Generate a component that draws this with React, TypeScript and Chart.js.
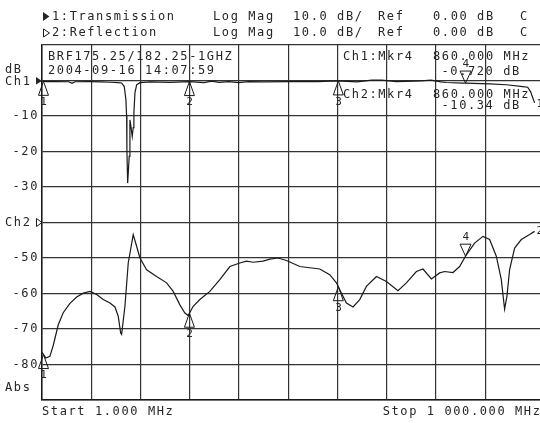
import React, { useEffect, useRef } from "react";
import { Chart, registerables } from "chart.js";

Chart.register(...registerables);

// ---- data ----
const xGridFreqs = [1, 100.9, 200.8, 300.7, 400.6, 500.5, 600.4, 700.3, 800.2, 900.1];
const yTickValues = [10, 0, -10, -20, -30, -40, -50, -60, -70, -80, -90];
const yTickLabels = ["", "", "-10", "-20", "-30", "", "-50", "-60", "-70", "-80", ""];

// Channel 1: Transmission (MHz, dB)
const transFreq = [
  1, 10, 30, 55, 62, 68, 100, 120, 140, 155, 162.5, 167.8, 171.2, 172.6, 173.2, 174.7,
  177.9, 179.3, 181.4, 184, 186, 187.4, 189.5, 192.9, 199.6, 220, 260, 300, 330, 345, 360,
  380, 400, 420, 450, 500, 560, 600, 640, 670, 690, 720, 770, 790, 810, 821, 854, 860, 909,
  943, 976, 986, 992, 1000,
];
const transDb = [
  -0.2, -0.3, -0.3, -0.35, -0.8, -0.35, -0.3, -0.4, -0.5, -0.6, -0.7, -1.7, -5.4, -10.1, -19.5, -28.9,
  -21.4, -11.1, -13, -15.8, -13.3, -9.1, -3.5, -1.2, -0.6, -0.4, -0.5, -0.3, -0.6, -0.2, -0.5,
  -0.3, -0.6, -0.3, -0.4, -0.3, -0.3, -0.1, -0.4, 0.1, 0.1, -0.3, -0.1, 0.1, -0.4, -0.56, -0.73, -0.72, -0.93,
  -1.2, -1.7, -1.9, -3.2, -6.3,
];

// Channel 2: Reflection (MHz, display dB)
const reflFreq = [
  1, 9, 17, 24, 34, 44, 57.7, 71.3, 84.7, 98.3, 111.8, 125.2, 138.8, 148.9, 155.6, 160.5, 162.5,
  169.2, 175.9, 186, 192.9, 199.6, 213.2, 233.4, 253.7, 267.1, 280.7, 290.8, 297.5, 307.6, 321.2,
  341.4, 361.7, 382, 402.2, 415.8, 429.2, 449.4, 463, 479.8, 496.9, 523.8, 564.3, 584.6, 598.2,
  608.3, 618.4, 631.8, 645.4, 659, 679.2, 699.5, 723, 740, 760.3, 773.7, 790.7, 807.5, 817.6,
  834.5, 848, 861.6, 878.4, 895.3, 908.8, 922.4, 932.5, 939.2, 943.9, 949.4, 959.5, 973.1, 989.9, 1000,
];
const reflDb = [
  -76.6, -78.2, -77.7, -74.5, -68.8, -65.4, -62.8, -61, -59.9, -59.4, -60.3, -61.7, -62.7, -63.8, -66.4, -71.1, -71.5,
  -63.6, -51.4, -43.4, -46.7, -50, -53.3, -55.2, -57, -59.4, -63.2, -65.5, -66.2, -63.6, -61.7,
  -59.4, -56.1, -52.4, -51.4, -50.9, -51.2, -50.9, -50.3, -50, -50.7, -52.4, -53.1, -54.7, -57,
  -59.9, -62.7, -63.8, -61.7, -58, -55.2, -56.6, -59.2, -57, -53.8, -53.1, -55.9, -54.2, -53.8,
  -54.1, -52.4, -49.1, -45.8, -43.9, -44.8, -49.5, -56.1, -64.4, -60.8, -53.3, -47.2, -44.8, -43.4, -42.5,
];

const markerFreqs = [4, 300, 602, 860];
const markerNames = ["1", "2", "3", "4"];

const FONT = '"DejaVu Sans Mono", "Liberation Mono", monospace';
const INK = "#1a1a1a";
const TEXT = "#262626";

function interp(fs: number[], ds: number[], f: number): number {
  if (f <= fs[0]) return ds[0];
  for (let i = 1; i < fs.length; i++) {
    if (f <= fs[i]) {
      const t = (f - fs[i - 1]) / (fs[i] - fs[i - 1]);
      return ds[i - 1] + t * (ds[i] - ds[i - 1]);
    }
  }
  return ds[ds.length - 1];
}

const overlay = {
  id: "overlay",
  beforeDraw(chart: any) {
    (chart.ctx as any).letterSpacing = "1.6px";
  },
  afterDraw(chart: any) {
    const ctx: CanvasRenderingContext2D = chart.ctx;
    const xs = chart.scales.x;
    const ys = chart.scales.y;
    ctx.save();
    (ctx as any).letterSpacing = "1.6px";
    ctx.fillStyle = TEXT;
    ctx.strokeStyle = INK;
    ctx.lineWidth = 1;
    ctx.textBaseline = "middle";
    ctx.textAlign = "left";
    ctx.font = `12px ${FONT}`;

    const t = (s: string, x: number, y: number) => ctx.fillText(s, x, y);

    // header
    ctx.beginPath();
    ctx.moveTo(43, 12);
    ctx.lineTo(43, 21);
    ctx.lineTo(49.5, 16.5);
    ctx.closePath();
    ctx.fill();
    t("1:Transmission", 52, 17);
    ctx.beginPath();
    ctx.moveTo(43.5, 29);
    ctx.lineTo(43.5, 37);
    ctx.lineTo(49.5, 33);
    ctx.closePath();
    ctx.stroke();
    t("2:Reflection", 52, 33);
    for (const yy of [17, 33]) {
      t("Log Mag", 213, yy);
      t("10.0 dB/", 293, yy);
      t("Ref", 378, yy);
      t("0.00 dB", 433, yy);
      t("C", 520, yy);
    }

    // annotation inside graticule
    t("BRF175.25/182.25-1GHZ", 48, 57);
    t("2004-09-16 14:07:59", 48, 71);
    t("Ch1:Mkr4", 343, 57);
    t("860.000 MHz", 433, 57);
    t("-0.720 dB", 441.5, 72);
    t("Ch2:Mkr4", 343, 95);
    t("860.000 MHz", 433, 95);
    t("-10.34 dB", 441.5, 106);

    // left axis labels
    const y0 = ys.getPixelForValue(0);
    const y40 = ys.getPixelForValue(-40);
    t("dB", 5, y0 - 11);
    t("Ch1", 5, y0 + 1.5);
    ctx.beginPath();
    ctx.moveTo(36, y0 - 3.5);
    ctx.lineTo(36, y0 + 4);
    ctx.lineTo(42, y0 + 0.5);
    ctx.closePath();
    ctx.fill();
    t("Ch2", 5, y40);
    ctx.beginPath();
    ctx.moveTo(36.5, y40 - 4);
    ctx.lineTo(36.5, y40 + 4);
    ctx.lineTo(42, y40);
    ctx.closePath();
    ctx.stroke();
    t("Abs", 5, ys.getPixelForValue(-86.7));

    // bottom labels
    t("Start 1.000 MHz", 42, 412);
    ctx.textAlign = "right";
    t("Stop 1 000.000 MHz", 541.5, 412);
    ctx.textAlign = "left";

    // markers
    ctx.font = `11px ${FONT}`;
    ctx.textAlign = "center";
    const drawMarkers = (fs: number[], ds: number[]) => {
      markerFreqs.forEach((f, i) => {
        const cx = xs.getPixelForValue(f);
        const cy = ys.getPixelForValue(interp(fs, ds, f));
        ctx.beginPath();
        if (i < 3) {
          ctx.moveTo(cx, cy);
          ctx.lineTo(cx - 5, cy + 14);
          ctx.lineTo(cx + 5, cy + 14);
          ctx.closePath();
          ctx.stroke();
          ctx.fillText(markerNames[i], cx + 1, cy + 21);
        } else {
          ctx.moveTo(cx, cy);
          ctx.lineTo(cx - 5.5, cy - 12);
          ctx.lineTo(cx + 5.5, cy - 12);
          ctx.closePath();
          ctx.stroke();
          ctx.fillText(markerNames[i], cx + 1, cy - 19);
        }
      });
    };
    drawMarkers(transFreq, transDb);
    drawMarkers(reflFreq, reflDb);

    // trace end labels
    ctx.textAlign = "left";
    const xe = xs.getPixelForValue(1000);
    ctx.fillText("1", xe + 2, ys.getPixelForValue(transDb[transDb.length - 1]) + 1);
    ctx.fillText("2", xe + 2, ys.getPixelForValue(reflDb[reflDb.length - 1]));

    ctx.restore();
  },
};

export default function App() {
  const ref = useRef<HTMLCanvasElement>(null);
  useEffect(() => {
    document.body.style.margin = "0";
    const canvas = ref.current!;
    const lineStyle = {
      borderColor: INK,
      borderWidth: 1.2,
      pointRadius: 0,
      tension: 0,
      fill: false,
    };
    const chart = new Chart(canvas, {
      type: "line",
      data: {
        datasets: [
          { ...lineStyle, data: transFreq.map((f, i) => ({ x: f, y: transDb[i] })) },
          { ...lineStyle, data: reflFreq.map((f, i) => ({ x: f, y: reflDb[i] })) },
        ],
      },
      options: {
        responsive: false,
        animation: false,
        devicePixelRatio: 1,
        layout: { padding: { top: 45, bottom: 23, left: 0, right: 0 } },
        plugins: { legend: { display: false }, tooltip: { enabled: false } },
        scales: {
          x: {
            type: "linear",
            min: 1,
            max: 1011,
            afterBuildTicks: (s: any) => {
              s.ticks = xGridFreqs.map((v) => ({ value: v }));
            },
            ticks: { display: false },
            grid: { color: "#333", lineWidth: 1.2, drawTicks: false },
            border: { display: true, color: INK, width: 1.5 },
          },
          y: {
            type: "linear",
            min: -90,
            max: 10,
            afterBuildTicks: (s: any) => {
              s.ticks = yTickValues.map((v) => ({ value: v }));
            },
            afterFit: (s: any) => {
              s.width = 42;
            },
            ticks: {
              callback: (v: any) => {
                const i = yTickValues.indexOf(Number(v));
                return i >= 0 ? yTickLabels[i] : "";
              },
              font: { family: FONT, size: 12 },
              color: TEXT,
              padding: 3,
              autoSkip: false,
            },
            grid: { color: "#333", lineWidth: 1.2, drawTicks: false },
            border: { display: true, color: INK, width: 1.5 },
          },
        },
      } as any,
      plugins: [overlay],
    });
    return () => chart.destroy();
  }, []);
  return (
    <div style={{ width: 540, height: 423, background: "#fff" }}>
      <canvas ref={ref} width={540} height={423} style={{ display: "block" }} />
    </div>
  );
}
